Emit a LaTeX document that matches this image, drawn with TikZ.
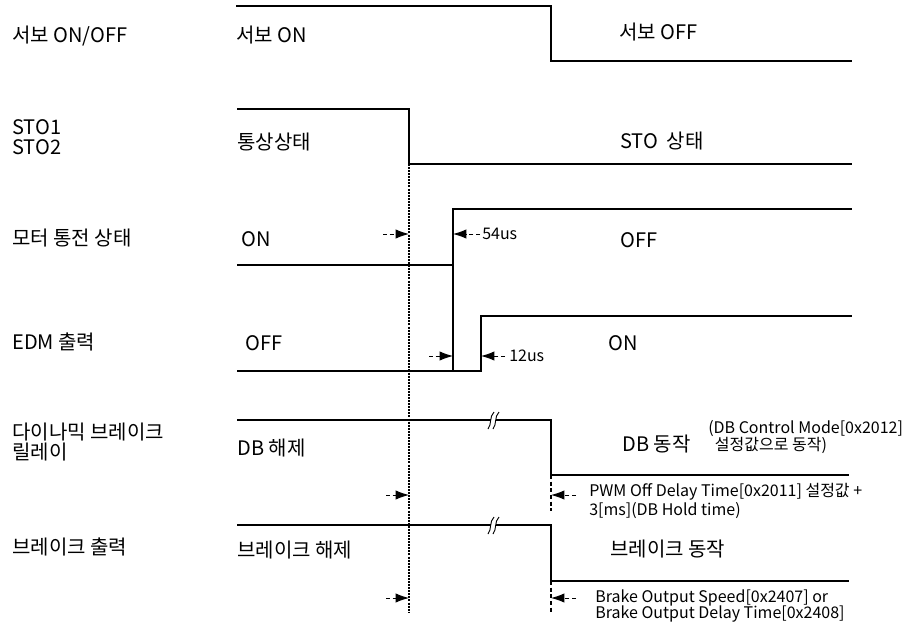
\documentclass[tikz,border=0pt]{standalone}
\usepackage{fontspec}
\newfontfamily\kr{Noto Sans CJK KR}
\usetikzlibrary{arrows.meta}

\tikzset{
	sig/.style={line width=1.4pt},
	lbl/.style={anchor=west, inner sep=0pt, align=left, font=\kr\fontsize{15}{15.2}\selectfont},
	note/.style={anchor=west, inner sep=0pt, align=left, font=\kr\fontsize{12}{12.6}\selectfont},
	dly/.style={dash pattern=on 3pt off 2pt, line width=0.7pt, -{Latex[length=10pt,width=7pt]}},
	guide/.style={dash pattern=on 1.5pt off 0.8pt, line width=0.8pt},
	brk/.style={line width=0.7pt}
}

\begin{document}
\begin{tikzpicture}[x=0.75pt, y=-0.75pt]
		\useasboundingbox (0, 0) rectangle (906, 628);

		% Segnali a sinistra
		\node[lbl] (servo) at (12, 36){서보 ON/OFF};
		\node[lbl] (sto) at (12, 137){STO1\\STO2};
		\node[lbl] (motor) at (12, 238){모터 통전 상태};
		\node[lbl] (edm) at (12, 342){EDM 출력};
		\node[lbl] (db) at (12, 442){다이나믹 브레이크\\릴레이};
		\node[lbl] (brake) at (12, 547){브레이크 출력};

		% Servo ON/OFF
		\draw[sig] (236, 6) -- (551, 6) -- (551, 61) -- (852, 61);
		\node[lbl] (servoOn) at (236, 35){서보 ON};
		\node[lbl] (servoOff) at (619, 32){서보 OFF};

		% STO
		\draw[sig] (237, 109) -- (409, 109) -- (409, 164) -- (852, 164);
		\node[lbl] (stoNorm) at (237, 142){통상상태};
		\node[lbl] (stoOn) at (620, 141){STO\ \ 상태};

		% Motore
		\draw[sig] (237, 265) -- (453, 265) -- (453, 209) -- (852, 209);
		\draw[line width=0.8pt] (453, 265) -- (453, 371);
		\node[lbl] (motorOn) at (241, 239){ON};
		\node[lbl] (motorOff) at (620, 240){OFF};

		% EDM
		\draw[sig] (237, 371) -- (481, 371) -- (481, 316) -- (852, 316);
		\node[lbl] (edmOff) at (245, 343){OFF};
		\node[lbl] (edmOn) at (608, 343){ON};

		% DB
		\draw[sig] (237, 420) -- (491, 420);
		\draw[sig] (496, 420) -- (551, 420) -- (551, 475) -- (849, 475);
		\draw[brk] (488, 429) .. controls (492, 424) and (489, 417) .. (494, 412);
		\draw[brk] (493, 429) .. controls (497, 424) and (494, 417) .. (499, 412);
		\node[lbl] (dbOff) at (237, 448){DB 해제};
		\node[lbl] (dbOn) at (622, 444){DB 동작};
		\node[note] (dbMode) at (708, 437){(DB Control Mode[0x2012]\\\hspace*{5pt}설정값으로 동작)};

		% Freno
		\draw[sig] (237, 525) -- (491, 525);
		\draw[sig] (496, 525) -- (551, 525) -- (551, 581) -- (849, 581);
		\draw[brk] (488, 534) .. controls (492, 529) and (489, 522) .. (494, 517);
		\draw[brk] (493, 534) .. controls (497, 529) and (494, 522) .. (499, 517);
		\node[lbl] (brakeOff) at (237, 550){브레이크 해제};
		\node[lbl] (brakeOn) at (610, 549){브레이크 동작};

		% Tempi
		\draw[guide] (409, 164) -- (409, 613);
		\draw[guide, dash pattern=on 3pt off 2pt] (551, 475) -- (551, 511);
		\draw[guide, dash pattern=on 3pt off 2pt] (551, 581) -- (551, 613);

		\coordinate (a1) at (383, 234);
		\coordinate (a1e) at (409, 234);
		\coordinate (b1) at (480, 234);
		\coordinate (b1e) at (453, 234);
		\coordinate (a2) at (429, 356);
		\coordinate (a2e) at (453, 356);
		\coordinate (b2) at (505, 356);
		\coordinate (b2e) at (481, 356);
		\coordinate (a3) at (386, 495);
		\coordinate (a3e) at (409, 495);
		\coordinate (b3) at (576, 495);
		\coordinate (b3e) at (551, 495);
		\coordinate (a4) at (386, 598);
		\coordinate (a4e) at (409, 598);
		\coordinate (b4) at (576, 598);
		\coordinate (b4e) at (551, 598);

		\draw[dly] (a1) -- (a1e);
		\draw[dly] (b1) -- (b1e);
		\draw[dly] (a2) -- (a2e);
		\draw[dly] (b2) -- (b2e);
		\draw[dly] (a3) -- (a3e);
		\draw[dly] (b3) -- (b3e);
		\draw[dly] (a4) -- (a4e);
		\draw[dly] (b4) -- (b4e);

		\node[note] (t54) at (482, 234){54us};
		\node[note] (t12) at (509, 356){12us};
		\node[note] (tPwm) at (589, 501){PWM Off Delay Time[0x2011] 설정값 +\\3[ms](DB Hold time)};
		\node[note] (tBrk) at (595, 606){Brake Output Speed[0x2407] or\\Brake Output Delay Time[0x2408]};
	\end{tikzpicture}
\end{document}
